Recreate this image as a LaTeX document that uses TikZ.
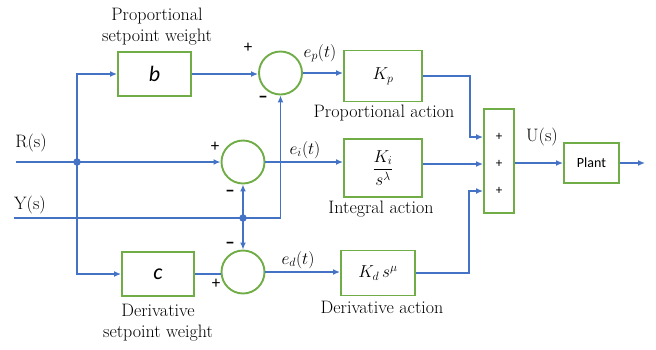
\documentclass[tikz,border=0pt]{standalone}
\usepackage{amsmath}
\usepackage{fontspec}
\newfontfamily\calfont{Carlito}
\usetikzlibrary{arrows.meta,positioning,calc}
\definecolor{PIDblue}{RGB}{68,114,196}
\definecolor{PIDgreen}{RGB}{112,173,71}
\tikzset{
  block/.style={draw=PIDgreen,line width=1.9pt,fill=white,inner sep=0pt,
                minimum width=78pt,minimum height=51pt,font=\fontsize{18}{21}\selectfont},
  sumnode/.style={circle,draw=PIDgreen,line width=1.9pt,fill=white,minimum size=43pt,inner sep=0pt},
  fl/.style={-{Latex[length=7pt,width=6pt]},line width=1.7pt,draw=PIDblue},
  ln/.style={line width=1.7pt,draw=PIDblue},
  dot/.style={circle,fill=PIDblue,inner sep=0pt,minimum size=7.5pt},
  sgn/.style={font=\calfont\fontsize{17}{17}\selectfont,inner sep=0pt},
  msgn/.style={font=\calfont\bfseries\fontsize{19}{19}\selectfont,inner sep=0pt},
  lbl/.style={align=center,inner sep=0pt,font=\fontsize{18}{21}\selectfont}
}

\begin{document}
\begin{tikzpicture}[x=1pt,y=-1pt]
  \useasboundingbox (0,0) rectangle (656,349);
  % blocks
  \node[block,minimum width=73pt,minimum height=44pt,font=\calfont\itshape\fontsize{22}{22}\selectfont] (bw) at (154.5,74) {b};
  \node[block,minimum width=72pt,minimum height=44pt,font=\calfont\itshape\fontsize{22}{22}\selectfont] (cw) at (158,274) {c};
  \node[sumnode] (sumP) at (280.5,73) {};
  \node[sumnode] (sumI) at (243,162) {};
  \node[sumnode] (sumD) at (243,272) {};
  \node[block] (Kp) at (383,76) {$K_p$};
  \node[block,minimum height=58pt] (Ki) at (383,168) {$\dfrac{K_i}{s^{\lambda}}$};
  \node[block,minimum width=74pt,minimum height=45pt] (Kd) at (378,273) {$K_d\,s^{\mu}$};
  \node[block,minimum width=30pt,minimum height=104pt] (sumbox) at (499,161) {};
  \node[sgn,font=\calfont\fontsize{13}{13}\selectfont] (p1) at (499,137) {+};
  \node[sgn,font=\calfont\fontsize{13}{13}\selectfont] (p2) at (499,164) {+};
  \node[sgn,font=\calfont\fontsize{13}{13}\selectfont] (p3) at (499,191) {+};
  \node[block,minimum width=55pt,minimum height=40pt,font=\calfont\fontsize{14}{14}\selectfont] (plant) at (591.5,163) {Plant};

  % inputs and branch points
  \coordinate (rin) at (16,162);
  \coordinate (yin) at (14,218);
  \coordinate (out) at (645,163);
  \node[dot] (rdot) at (77,162) {};
  \node[dot] (ydot) at (243,218) {};

  % connectors
  \draw[fl] (rin) -- (sumI.west);
  \draw[fl] (rdot.center) |- (bw.west);
  \draw[fl] (rdot.center) |- (cw.west);
  \draw[fl] (bw.east) -- (bw.east -| sumP.west);
  \draw[ln] (cw.east) -- (cw.east -| sumD.west);
  \draw[fl] (yin) -| (sumP.south);
  \draw[fl] (ydot.center) -- (sumI.south);
  \draw[fl] (ydot.center) -- (sumD.north);
  \draw[fl] (sumP.east) -- (sumP.east -| Kp.west);
  \draw[fl] (sumI.east) -- (sumI.east -| Ki.west);
  \draw[fl] (sumD.east) -- (sumD.east -| Kd.west);
  \draw[fl] (Kp.east) -- ++(47,0) |- (sumbox.west |- p1);
  \draw[fl] (Ki.east |- p2) -- (sumbox.west |- p2);
  \draw[fl] (Kd.east) -- ++(53,0) |- (sumbox.west |- p3);
  \draw[fl] (sumbox.east |- plant) -- (plant.west);
  \draw[fl] (plant.east) -- (out);

  % signs
  \node[sgn] (sP1) at (248,48) {+};
  \node[msgn] (sP2) at (263,99) {–};
  \node[sgn] (sI1) at (215,147) {+};
  \node[msgn] (sI2) at (230,193) {–};
  \node[msgn] (sD1) at (230,245) {–};
  \node[sgn] (sD2) at (216,284) {+};

  % labels
  \node[lbl] (lbw) at (157,27) {Proportional\\setpoint weight};
  \node[lbl] (lcw) at (158,323) {Derivative\\setpoint weight};
  \node[lbl] (lKp) at (384,113) {Proportional action};
  \node[lbl] (lKi) at (381,209) {Integral action};
  \node[lbl] (lKd) at (382,307) {Derivative action};
  \node[lbl] (lR) at (31,143) {R(s)};
  \node[lbl] (lY) at (30,205) {Y(s)};
  \node[lbl] (lU) at (542,137) {U(s)};
  \node[lbl] (lep) at (320,53) {$e_p(t)$};
  \node[lbl] (lei) at (305,150) {$e_i(t)$};
  \node[lbl] (led) at (298,260) {$e_d(t)$};
\end{tikzpicture}
\end{document}
